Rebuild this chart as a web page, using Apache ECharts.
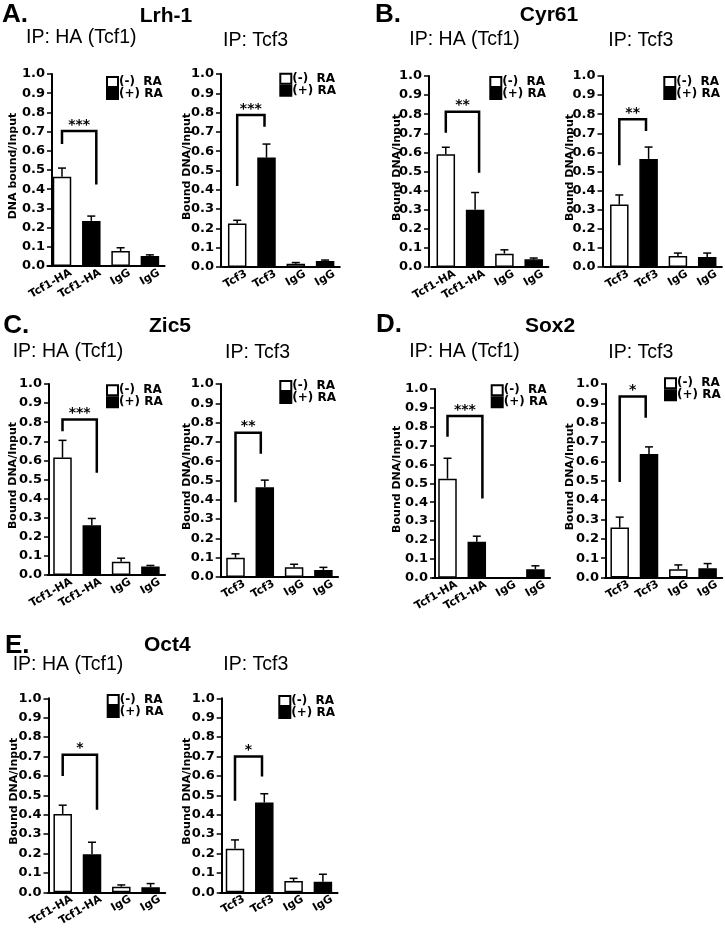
<!DOCTYPE html>
<html><head><meta charset="utf-8">
<script src="https://cdn.jsdelivr.net/npm/echarts@6.0.0/dist/echarts.min.js"></script>
<style>html,body{margin:0;padding:0;background:#fff}#c{width:725px;height:930px}</style>
</head><body><div id="c"></div>
<script>
// ---------- DATA ----------
const catsHA = ['Tcf1-HA', 'Tcf1-HA', 'IgG', 'IgG'];
const catsT3 = ['Tcf3', 'Tcf3', 'IgG', 'IgG'];
const NAME_MINUS = '(-)  RA';
const NAME_PLUS = '(+) RA';
// 0 = (-) RA (white bar), 1 = (+) RA (black bar), per bar position
const treatment = [0, 1, 0, 1];
const yNameA = 'DNA bound/Input';
const yName = 'Bound DNA/Input';

const lrh1HaMean = [0.465, 0.235, 0.078, 0.052];
const lrh1HaSem  = [0.045, 0.025, 0.017, 0.006];
const lrh1T3Mean = [0.225, 0.567, 0.017, 0.031];
const lrh1T3Sem  = [0.017, 0.070, 0.006, 0.005];
const cyr61HaMean = [0.590, 0.300, 0.070, 0.040];
const cyr61HaSem  = [0.037, 0.090, 0.020, 0.007];
const cyr61T3Mean = [0.327, 0.566, 0.058, 0.053];
const cyr61T3Sem  = [0.050, 0.062, 0.015, 0.020];
const zic5HaMean = [0.615, 0.260, 0.070, 0.045];
const zic5HaSem  = [0.090, 0.036, 0.018, 0.005];
const zic5T3Mean = [0.100, 0.465, 0.050, 0.036];
const zic5T3Sem  = [0.020, 0.037, 0.016, 0.014];
const sox2HaMean = [0.525, 0.190, 0.000, 0.045];
const sox2HaSem  = [0.108, 0.030, 0.000, 0.018];
const sox2T3Mean = [0.258, 0.638, 0.043, 0.048];
const sox2T3Sem  = [0.054, 0.037, 0.022, 0.024];
const oct4HaMean = [0.404, 0.196, 0.029, 0.026];
const oct4HaSem  = [0.045, 0.062, 0.009, 0.019];
const oct4T3Mean = [0.225, 0.463, 0.058, 0.055];
const oct4T3Sem  = [0.045, 0.045, 0.014, 0.038];

// significance brackets: [left leg bottom, top, right leg bottom]
const lrh1HaBracket = [0.635, 0.703, 0.424];
const lrh1T3Bracket = [0.420, 0.787, 0.727];
const cyr61HaBracket = [0.703, 0.813, 0.493];
const cyr61T3Bracket = [0.533, 0.773, 0.712];
const zic5HaBracket = [0.753, 0.814, 0.535];
const zic5T3Bracket = [0.387, 0.747, 0.639];
const sox2HaBracket = [0.747, 0.857, 0.420];
const sox2T3Bracket = [0.493, 0.935, 0.825];
const oct4HaBracket = [0.600, 0.709, 0.425];
const oct4T3Bracket = [0.472, 0.700, 0.597];
const starsList = ['***', '***', '**', '**', '***', '**', '***', '*', '*', '*'];

// ---------- LAYOUT (positions / styles only) ----------
const band = 29.3;
const layouts = [
  {axisX: 52,    top: 74,    bot: 266,   cx0: 62,    leg: [106, 76],     nameDist: 40,   brR: 5},
  {axisX: 221,   top: 74,    bot: 267,   cx0: 237.2, leg: [279.3, 72.7], nameDist: 35,   brR: -2},
  {axisX: 429,   top: 76,    bot: 267,   cx0: 445.8, leg: [489.3, 76],   nameDist: 33.2, brR: 4},
  {axisX: 602.5, top: 76,    bot: 267,   cx0: 619.3, leg: [663.3, 76],   nameDist: 33,   brR: -2.6},
  {axisX: 49,    top: 384,   bot: 575,   cx0: 62.5,  leg: [106, 384.3],  nameDist: 36.5, brR: 5},
  {axisX: 220.7, top: 384,   bot: 577,   cx0: 235.5, leg: [279.3, 380],  nameDist: 34.7, brR: -4},
  {axisX: 435,   top: 389,   bot: 577.7, cx0: 447.5, leg: [490.7, 384.3],nameDist: 39.2, brR: 5.6},
  {axisX: 606,   top: 384,   bot: 577.5, cx0: 619.7, leg: [664, 377.3],  nameDist: 37,   brR: -3.3},
  {axisX: 48.5,  top: 698.3, bot: 892.3, cx0: 62.7,  leg: [106.7, 694],  nameDist: 35.8, brR: 5},
  {axisX: 221.7, top: 698.3, bot: 892.3, cx0: 235,   leg: [278.3, 695],  nameDist: 35.7, brR: -2.3}
];

const charts = [
  {cats: catsHA, mean: lrh1HaMean, sem: lrh1HaSem, bracket: lrh1HaBracket, yName: yNameA},
  {cats: catsT3, mean: lrh1T3Mean, sem: lrh1T3Sem, bracket: lrh1T3Bracket, yName: yName},
  {cats: catsHA, mean: cyr61HaMean, sem: cyr61HaSem, bracket: cyr61HaBracket, yName: yName},
  {cats: catsT3, mean: cyr61T3Mean, sem: cyr61T3Sem, bracket: cyr61T3Bracket, yName: yName},
  {cats: catsHA, mean: zic5HaMean, sem: zic5HaSem, bracket: zic5HaBracket, yName: yName},
  {cats: catsT3, mean: zic5T3Mean, sem: zic5T3Sem, bracket: zic5T3Bracket, yName: yName},
  {cats: catsHA, mean: sox2HaMean, sem: sox2HaSem, bracket: sox2HaBracket, yName: yName},
  {cats: catsT3, mean: sox2T3Mean, sem: sox2T3Sem, bracket: sox2T3Bracket, yName: yName},
  {cats: catsHA, mean: oct4HaMean, sem: oct4HaSem, bracket: oct4HaBracket, yName: yName},
  {cats: catsT3, mean: oct4T3Mean, sem: oct4T3Sem, bracket: oct4T3Bracket, yName: yName}
];

const headings = [
  ['A.', 2, 14.5, 'L'], ['Lrh-1', 166, 16, 'G'], ['IP: HA (Tcf1)', 26, 37.5, 'I'], ['IP: Tcf3', 223, 41, 'I'],
  ['B.', 375, 15, 'L'], ['Cyr61', 549, 15.5, 'G'], ['IP: HA (Tcf1)', 409.3, 40, 'I'], ['IP: Tcf3', 608.3, 41, 'I'],
  ['C.', 3.3, 326, 'L'], ['Zic5', 170, 326.5, 'G'], ['IP: HA (Tcf1)', 12.7, 351.7, 'I'], ['IP: Tcf3', 225, 352.5, 'I'],
  ['D.', 376, 325, 'L'], ['Sox2', 550, 326.5, 'G'], ['IP: HA (Tcf1)', 409.3, 351.7, 'I'], ['IP: Tcf3', 608.3, 352.5, 'I'],
  ['E.', 5, 646, 'L'], ['Oct4', 167.3, 645, 'G'], ['IP: HA (Tcf1)', 12.7, 664.5, 'I'], ['IP: Tcf3', 223.3, 664.5, 'I']
];
const headStyle = {
  L: {fontSize: 26, fontWeight: 'bold', align: 'left', lineHeight: 20},
  G: {fontSize: 21, fontWeight: 'bold', align: 'center', lineHeight: 17},
  I: {fontSize: 19.5, fontWeight: 'normal', align: 'left', lineHeight: 14}
};

const BOLD = {fontFamily: 'DejaVu Sans', fontWeight: 'bold', color: '#000'};

const option = {
  animation: false,
  backgroundColor: '#fff',
  graphic: {elements: headings.map(h => {
    const s = headStyle[h[3]];
    return {type: 'text', x: h[1], y: h[2], silent: true, style: {
      text: h[0], fill: '#000', fontFamily: 'Liberation Sans', fontSize: s.fontSize, fontWeight: s.fontWeight,
      lineHeight: s.lineHeight,
      align: s.align, textAlign: s.align, verticalAlign: 'middle', textVerticalAlign: 'middle'
    }};
  })},
  grid: [], xAxis: [], yAxis: [], legend: [], series: []
};

charts.forEach((c, i) => {
  const lay = layouts[i];
  const left = lay.cx0 - band / 2;
  option.grid.push({left: left, top: lay.top, width: 4 * band, height: lay.bot - lay.top,
    containLabel: false, outerBoundsMode: 'none'});
  option.xAxis.push({
    type: 'category', gridIndex: i, data: c.cats, boundaryGap: true,
    axisLine: {lineStyle: {color: '#000', width: 2}},
    axisTick: {show: false},
    axisLabel: Object.assign({interval: 0, rotate: 30, margin: -9.6, verticalAlign: 'top', lineHeight: 12,
      padding: [12, 0, 0, 0], fontSize: 11, hideOverlap: false}, BOLD)
  });
  option.yAxis.push({
    type: 'value', gridIndex: i, min: 0, max: 1, interval: 0.1, offset: left - lay.axisX,
    splitLine: {show: false},
    axisLine: {show: true, lineStyle: {color: '#000', width: 2}},
    axisTick: {show: true, length: 5, lineStyle: {color: '#000', width: 1.5}},
    axisLabel: Object.assign({margin: 7, fontSize: 13, showMinLabel: true, showMaxLabel: true,
      formatter: v => v.toFixed(1)}, BOLD),
    name: c.yName, nameLocation: 'middle', nameGap: lay.nameDist - 6.5, nameMoveOverlap: false,
    nameTextStyle: Object.assign({fontSize: 11, padding: [0, 0, 0, 8]}, BOLD)
  });
  option.legend.push({
    data: [NAME_MINUS, NAME_PLUS], orient: 'vertical', left: lay.leg[0], top: lay.leg[1],
    padding: 0, itemGap: 0, itemWidth: 11, itemHeight: 10, icon: 'rect', selectedMode: false,
    textStyle: Object.assign({fontSize: 12, lineHeight: 10, padding: [0, 0, 0, -4]}, BOLD)
  });
  const barCommon = {type: 'bar', xAxisIndex: i, yAxisIndex: i, barWidth: 18.5, barGap: '-100%', z: 2};
  option.series.push(Object.assign({}, barCommon, {
    name: NAME_MINUS,
    data: c.mean.map((v, j) => treatment[j] === 0 ? v : '-'),
    itemStyle: {color: '#fff', borderColor: '#000', borderWidth: 1.5}
  }));
  option.series.push(Object.assign({}, barCommon, {
    name: NAME_PLUS,
    data: c.mean.map((v, j) => treatment[j] === 1 ? v : '-'),
    itemStyle: {color: '#000', borderColor: '#000', borderWidth: 1.5}
  }));
  option.series.push({
    type: 'custom', name: 'SEM', xAxisIndex: i, yAxisIndex: i, z: 3, silent: true,
    encode: {x: 0, y: [1, 2]},
    data: c.mean.map((v, j) => [j, v, v + c.sem[j]]),
    renderItem: (params, api) => {
      const j = api.value(0), v = api.value(1), t = api.value(2);
      if (!(t > v)) return {type: 'group', children: []};
      const a = api.coord([j, v]), b = api.coord([j, t]);
      const st = {stroke: '#000', lineWidth: 1.5};
      return {type: 'group', children: [
        {type: 'line', shape: {x1: a[0], y1: a[1], x2: b[0], y2: b[1]}, style: st},
        {type: 'line', shape: {x1: b[0] - 4, y1: b[1], x2: b[0] + 4, y2: b[1]}, style: st}
      ]};
    }
  });
  const brR = lay.brR;
  const stars = starsList[i];
  option.series.push({
    type: 'custom', name: 'significance', xAxisIndex: i, yAxisIndex: i, z: 4, silent: true,
    encode: {x: [0, 1], y: [2, 3, 4]},
    data: [[0, 1, c.bracket[0], c.bracket[1], c.bracket[2]]],
    renderItem: (params, api) => {
      const l0 = api.coord([api.value(0), api.value(2)]);
      const lt = api.coord([api.value(0), api.value(3)]);
      const rt = api.coord([api.value(1), api.value(3)]);
      const r0 = api.coord([api.value(1), api.value(4)]);
      const xr = rt[0] + brR;
      return {type: 'group', children: [
        {type: 'polyline', shape: {points: [[l0[0], l0[1]], [lt[0], lt[1]], [xr, lt[1]], [xr, r0[1]]]},
          style: {stroke: '#000', lineWidth: 2.5, fill: null}},
        {type: 'text', x: (lt[0] + xr) / 2, y: lt[1] - 6, style: {
          text: stars, fill: '#000', fontFamily: 'DejaVu Sans', fontWeight: 'bold', fontSize: 14,
          align: 'center', verticalAlign: 'middle', textAlign: 'center', textVerticalAlign: 'middle'}}
      ]};
    }
  });
});

const chart = echarts.init(document.getElementById('c'), null, {renderer: 'canvas', width: 725, height: 930});
chart.setOption(option);
</script>
</body></html>
